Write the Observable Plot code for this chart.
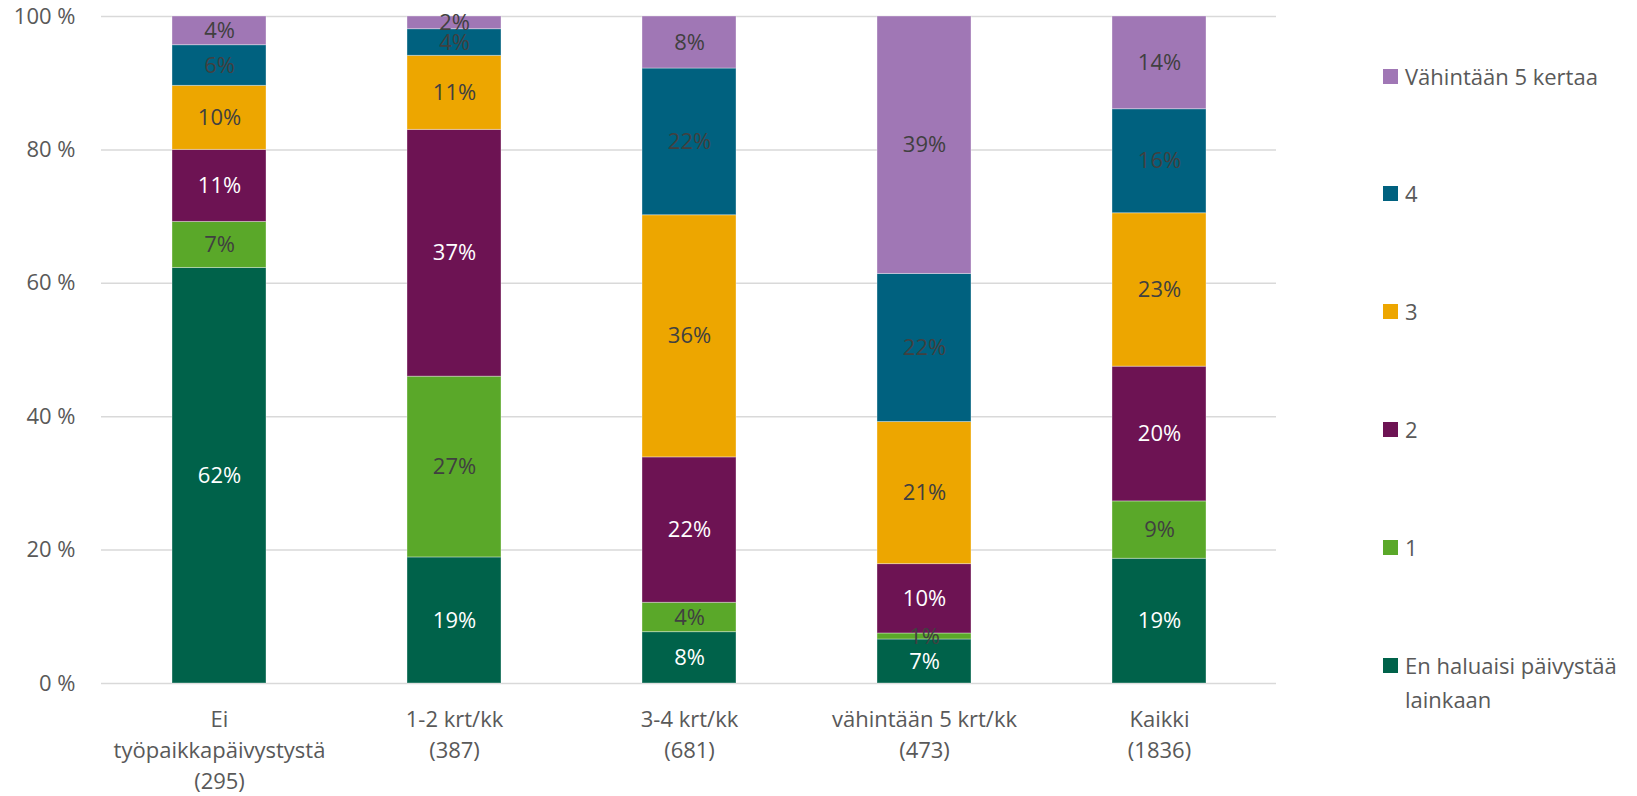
<!DOCTYPE html>
<html>
<head>
<meta charset="utf-8">
<script src="https://cdn.jsdelivr.net/npm/d3@7"></script>
<script src="https://cdn.jsdelivr.net/npm/@observablehq/plot@0.6"></script>
<style>
  html, body { margin: 0; padding: 0; background: #fff; }
  #wrap { position: relative; width: 1637px; height: 796px; font-family: "Open Sans", sans-serif; }
  #legend { position: absolute; left: 1383px; top: 0; width: 254px; }
  .item { position: absolute; left: 0; display: flex; align-items: flex-start; font-size: 22px; line-height: 34px; color: #595959; }
  .sw { width: 15px; height: 15px; margin-top: 10px; margin-right: 7px; flex: none; }
  .lbl { width: 232px; }
</style>
</head>
<body>
<div id="wrap"><div id="legend"></div></div>
<script>
const groups = ["Ei\ntyöpaikkapäivystystä", "1-2 krt/kk", "3-4 krt/kk", "vähintään 5 krt/kk", "Kaikki"];
const counts = [295, 387, 681, 473, 1836];
const series = ["En haluaisi päivystää lainkaan", "1", "2", "3", "4", "Vähintään 5 kertaa"];
const colors = ["#00624A", "#5AA829", "#6D1353", "#EDA600", "#00617F", "#A077B5"];
const vEn = [62.3, 18.9, 7.7, 6.6, 18.7];
const v1  = [6.9, 27.1, 4.4, 0.9, 8.6];
const v2  = [10.8, 37.0, 21.8, 10.4, 20.2];
const v3  = [9.6, 11.1, 36.3, 21.3, 23.0];
const v4  = [6.1, 4.0, 22.0, 22.2, 15.6];
const v5  = [4.3, 1.9, 7.8, 38.6, 13.9];
const yTicks = [0, 20, 40, 60, 80, 100];
const whiteLabelSeries = ["En haluaisi päivystää lainkaan", "2"];

const cats = groups.map((g, i) => `${g}\n(${counts[i]})`);
const seriesValues = [vEn, v1, v2, v3, v4, v5];
const data = [];
series.forEach((s, si) => {
  cats.forEach((c, ci) => data.push({cat: c, series: s, value: seriesValues[si][ci]}));
});
const fmt = d => Math.round(d.value) + "%";

const chart = Plot.plot({
  width: 1637,
  height: 796,
  marginLeft: 101,
  marginRight: 361,
  marginTop: 16,
  marginBottom: 113,
  style: {fontFamily: "Open Sans, sans-serif", fontSize: "22px", color: "#595959", background: "#fff"},
  x: {domain: cats, paddingInner: 0.6, paddingOuter: 0.3, label: null},
  y: {domain: [0, 100], label: null},
  color: {domain: series, range: colors},
  marks: [
    Plot.ruleY(yTicks, {stroke: "#d9d9d9", strokeWidth: 1.5}),
    Plot.barY(data, {x: "cat", y: "value", fill: "series", stroke: "#ffffff", strokeOpacity: 0.35, strokeWidth: 1}),
    Plot.text(data, Plot.stackY({
      x: "cat", y: "value", z: "series",
      text: d => whiteLabelSeries.includes(d.series) ? fmt(d) : null,
      fill: "white", fontSize: 22
    })),
    Plot.text(data, Plot.stackY({
      x: "cat", y: "value", z: "series",
      text: d => whiteLabelSeries.includes(d.series) ? null : fmt(d),
      fill: "#404040", fontSize: 22
    })),
    Plot.axisY({ticks: yTicks, tickFormat: d => d + " %", tickSize: 0, tickPadding: 26, fontSize: 22, fill: "#595959", label: null}),
    Plot.axisX({tickSize: 0, tickPadding: 22, fontSize: 22, lineHeight: 1.4, fill: "#595959", label: null})
  ]
});
document.getElementById("wrap").prepend(chart);

const legend = document.getElementById("legend");
const centers = [76, 193, 311, 429, 547, 665];
series.slice().reverse().forEach((s, i) => {
  const item = document.createElement("div");
  item.className = "item";
  item.style.top = (centers[i] - 17) + "px";
  const sw = document.createElement("div");
  sw.className = "sw";
  sw.style.background = colors[series.length - 1 - i];
  const lbl = document.createElement("div");
  lbl.className = "lbl";
  lbl.textContent = s;
  item.appendChild(sw);
  item.appendChild(lbl);
  legend.appendChild(item);
});
</script>
</body>
</html>
